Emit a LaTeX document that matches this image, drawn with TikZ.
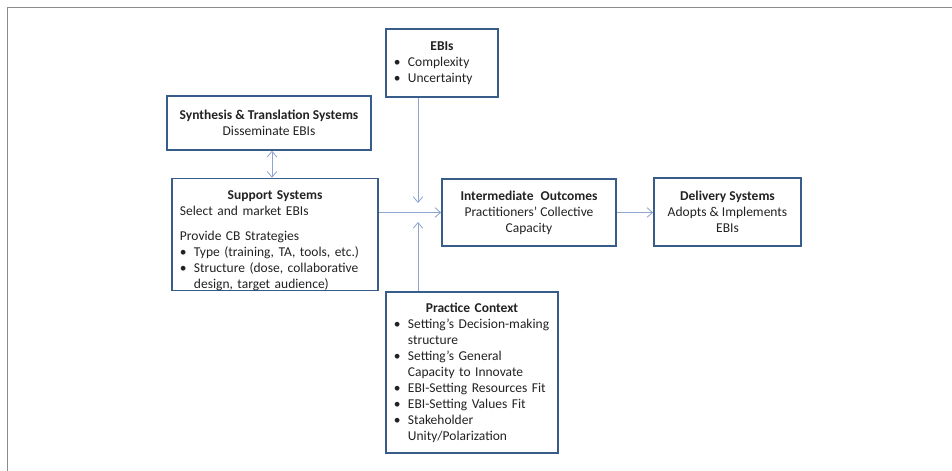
\documentclass[tikz,border=0pt]{standalone}
\usepackage{fontspec}
\setmainfont{Carlito}
\usetikzlibrary{arrows.meta, positioning}
\definecolor{boxblue}{HTML}{385D8A}
\definecolor{arrowblue}{HTML}{8EA6CF}
\definecolor{framegray}{HTML}{8C8C8C}
\definecolor{textgray}{HTML}{222222}

\newcommand{\bitem}[1]{{\hangindent=0.35cm\hangafter=1\noindent\makebox[0.35cm][l]{\textbullet}#1\par}}
\newcommand{\btitle}[1]{{\centering\textbf{#1}\par}}

\begin{document}
\begin{tikzpicture}[
    x=0.025cm, y=-0.025cm,
    every node/.style={font=\fontsize{9.6}{11.4}\selectfont, text=textgray},
    sysbox/.style={rectangle, draw=boxblue, line width=1.1pt, align=center, inner sep=0pt},
    listbox/.style={sysbox, align=left, inner xsep=0.25cm},
    arrow/.style={-{Straight Barb[length=1.4mm, width=2.4mm]}, draw=arrowblue, line width=0.6pt}
]
\useasboundingbox (0,0) rectangle (952,471);

% frame
\draw[framegray, line width=1.4pt] (7.5,471) -- (7.5,7.5) -- (952,7.5);

% EBIs
\node[listbox, minimum width=2.8cm, minimum height=1.7cm, text width=2.4cm, inner xsep=0.2cm] (ebis) at (442,63)
    {\btitle{EBIs}\bitem{Complexity}\bitem{Uncertainty}};

% Synthesis and support
\node[sysbox, minimum width=5.1cm, minimum height=1.35cm] (synth) at (269,123)
    {\textbf{Synthesis \& Translation Systems}\\Disseminate EBIs};
\node[listbox, minimum width=5.15cm, minimum height=2.775cm, text width=4.75cm, inner xsep=0.2cm] (support) at (275,234.5)
    {\btitle{\rule{0pt}{15pt}Support Systems}\noindent Select and market EBIs\par\vspace{6pt}%
     \noindent Provide CB Strategies\par\bitem{Type (training, TA, tools, etc.)}%
     \bitem{Structure (dose, collaborative\newline design, target audience)}};

% Outcomes and delivery
\node[sysbox, minimum width=4.35cm, minimum height=1.675cm] (inter) at (529,212.5)
    {\textbf{Intermediate\hspace{0.3em} Outcomes}\\Practitioners’ Collective\\Capacity};
\node[sysbox, minimum width=3.675cm, minimum height=1.7cm] (deliv) at (727.5,212)
    {\textbf{Delivery Systems}\\Adopts \& Implements\\EBIs};

% Practice context
\node[listbox, minimum width=4.3cm, minimum height=4.025cm, text width=3.9cm, inner xsep=0.2cm] (practice) at (472,372.5)
    {\btitle{Practice Context}\bitem{Setting’s Decision-making\newline structure}%
     \bitem{Setting’s General\newline Capacity to Innovate}\bitem{EBI-Setting Resources Fit}%
     \bitem{EBI-Setting Values Fit}\bitem{Stakeholder\newline Unity/Polarization}};

% Arrows
\coordinate (downend) at (418,203);
\coordinate (upend) at (418,222);
\draw[arrow] (ebis.south -| downend) -- (downend);
\draw[arrow] (practice.north -| upend) -- (upend);
\draw[arrow] (support.east |- inter.west) -- (inter.west);
\draw[arrow] (inter.east) -- (deliv.west |- inter.east);
\draw[arrow, {Straight Barb[length=1.4mm, width=2.4mm]}-{Straight Barb[length=1.4mm, width=2.4mm]}] ([xshift=0.075cm]synth.south) -- ([xshift=0.075cm]synth.south |- support.north);

\end{tikzpicture}
\end{document}
